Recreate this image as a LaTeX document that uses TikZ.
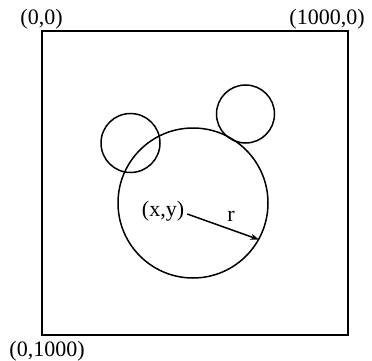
\documentclass[tikz,border=0pt]{standalone}
\usepackage{fontspec}
\setmainfont{Liberation Serif}
\usetikzlibrary{arrows.meta}
\begin{document}
\begin{tikzpicture}[x=1pt,y=-1pt,
  line/.style={line width=1.5pt},
  ring/.style={circle,draw,line width=1.5pt,inner sep=0pt},
  lbl/.style={font=\fontsize{22}{24}\selectfont,inner sep=0pt}]
\useasboundingbox (0,0) rectangle (372,361);
\node[draw,line width=1.5pt,minimum width=306pt,minimum height=304pt,inner sep=0pt] (box) at (195,183) {};
\node[ring,minimum size=150pt] (big) at (193,203) {};
\node[ring,minimum size=59pt] (ear1) at (130.5,143) {};
\node[ring,minimum size=58pt] (ear2) at (245.5,114) {};
\node[lbl] (tl) at (41.5,19) {(0,0)};
\node[lbl] (tr) at (327,19) {(1000,0)};
\node[lbl] (bl) at (47,351) {(0,1000)};
\node[lbl] (xy) at (163,211) {(x,y)};
\node[lbl] (r) at (231,216) {r};
\draw[line,-{Stealth[length=9pt,width=6pt]}] (xy.east) ++(3pt,-3pt) coordinate (s) -- (big.-29.6);
\end{tikzpicture}
\end{document}
